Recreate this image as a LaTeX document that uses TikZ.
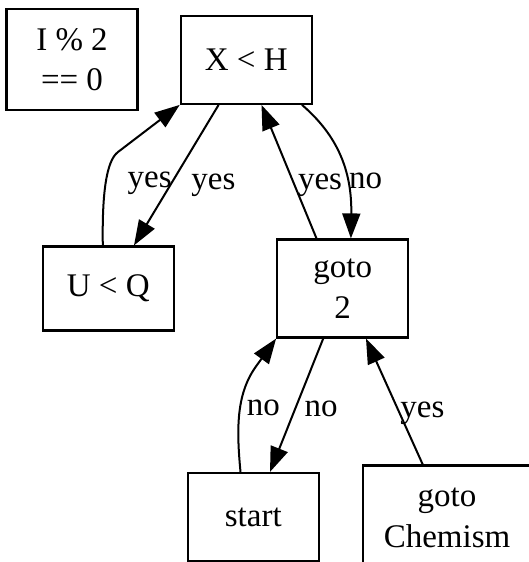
\documentclass[tikz,border=0pt]{standalone}
\usepackage{fontspec}
\setmainfont{Liberation Serif}
\usetikzlibrary{arrows.meta}

\begin{document}
\begin{tikzpicture}[
  x=1pt, y=-1pt,
  box/.style={rectangle, draw, line width=2.2pt, minimum width=131pt, align=center, inner sep=0pt, font=\fontsize{33}{40.5}\selectfont},
  lbl/.style={inner sep=0pt, font=\fontsize{33}{40.5}\selectfont},
  arrow/.style={-{Triangle[length=25pt, width=18pt]}, line width=2pt}
]
\useasboundingbox (0,0) rectangle (529,562);
\clip (0,0) rectangle (529,562);

\node[box, minimum height=101pt] (mod) at (72,59.7) {I \% 2\\== 0};
\node[box, minimum height=88pt] (xh) at (246.3,59.8) {X < H};
\node[box, minimum height=84pt] (uq) at (108.3,288.5) {U < Q};
\node[box, minimum height=98pt] (g2) at (342.7,288.5) {goto\\2};
\node[box, minimum height=88pt] (st) at (253.3,517) {start};
\node[box, minimum width=168.6pt, minimum height=105pt] (chem) at (447,518) {goto\\Chemism};

\draw[arrow] ([xshift=-5.5pt]uq.north) .. controls (102,195) and (106,161) .. (118,152) node[lbl, pos=0.5, right=21pt] {yes} -- (xh.south west);
\draw[arrow] ([xshift=-27.7pt]xh.south) -- node[lbl, pos=0.57, right=20pt] {yes} ([xshift=25.7pt]uq.north);
\draw[arrow] ([xshift=-26.2pt]g2.north) -- node[lbl, pos=0.4, right=2.5pt] {yes} ([xshift=15.2pt]xh.south);
\draw[arrow] ([xshift=55.7pt]xh.south) .. controls (337,135) and (352,170) .. node[lbl, pos=0.67, right=1.5pt] {no} ([xshift=8.2pt]g2.north);
\draw[arrow] ([xshift=-12.8pt]st.north) .. controls (236,425) and (237,392) .. (257,365) node[lbl, pos=0.53, right=6pt] {no} -- (g2.south west);
\draw[arrow] ([xshift=-19.5pt]g2.south) -- node[lbl, pos=0.53, right=8.5pt] {no} ([xshift=16.7pt]st.north);
\draw[arrow] ([xshift=-24.3pt]chem.north) -- node[lbl, pos=0.41, right=0pt] {yes} ([xshift=23.3pt]g2.south);
\end{tikzpicture}
\end{document}
